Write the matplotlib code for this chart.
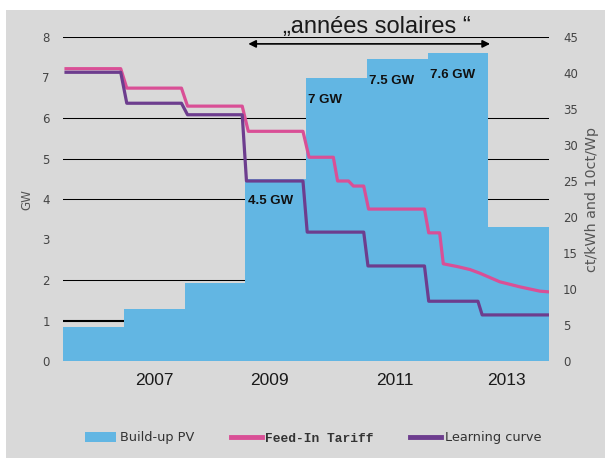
import matplotlib.pyplot as plt
from matplotlib.patches import Rectangle, Patch
from matplotlib.lines import Line2D

# yearly PV build-up (GW)
years = [2006, 2007, 2008, 2009, 2010, 2011, 2012, 2013]
build_up_gw = [0.83, 1.28, 1.93, 4.5, 7.0, 7.46, 7.6, 3.3]
bar_labels = ['', '', '', '4.5 GW', '7 GW', '7.5 GW', '7.6 GW', '']

# feed-in tariff (ct/kWh)
tariff_x = [2005.55, 2006.45, 2006.55, 2007.45, 2007.55, 2008.45, 2008.55, 2009.45,
            2009.55, 2009.95, 2010.02, 2010.2, 2010.28, 2010.45, 2010.53, 2011.45,
            2011.52, 2011.7, 2011.76, 2012.0, 2012.2, 2012.36, 2012.69, 2013.02,
            2013.35, 2013.5]
tariff_ct = [40.6, 40.6, 37.9, 37.9, 35.4, 35.4, 31.9, 31.9,
             28.3, 28.3, 25.0, 25.0, 24.3, 24.3, 21.1, 21.1,
             17.8, 17.8, 13.5, 13.1, 12.7, 12.2, 11.0, 10.3,
             9.7, 9.6]

# learning curve (10ct/Wp)
learning_x = [2005.55, 2006.45, 2006.55, 2007.45, 2007.55, 2008.45, 2008.52, 2009.45,
              2009.52, 2010.45, 2010.52, 2011.45, 2011.52, 2012.33, 2012.4, 2013.5]
learning_ct = [40.1, 40.1, 35.8, 35.8, 34.2, 34.2, 25.0, 25.0,
               17.9, 17.9, 13.2, 13.2, 8.3, 8.3, 6.4, 6.4]

gw_ticks = list(range(0, 9))
ct_ticks = list(range(0, 50, 5))
year_pos = [2007, 2008.9, 2010.96, 2012.8]
year_labels = ['2007', '2009', '2011', '2013']
grid_levels = [1, 2, 4, 5, 6, 8]

blue = '#62b6e3'
pink = '#d94f96'
purple = '#6d3d8e'
bg = '#d9d9d9'

fig = plt.figure(figsize=(6.05, 4.58), dpi=100)
fig.patch.set_facecolor('white')
fig.add_artist(Rectangle((6 / 605, 0), 1, 1 - 10 / 458, transform=fig.transFigure,
                         facecolor=bg, edgecolor='none', zorder=-10))

ax = fig.add_axes([63 / 605, 1 - 361 / 458, 486 / 605, 324 / 458])
ax.set_facecolor(bg)

for g in grid_levels:
    ax.axhline(g, color='black', lw=1.5 if g == 1 else 0.75, zorder=1)

ax.bar(years, build_up_gw, width=1.0, color=blue, zorder=2)
for x, h, lab in zip(years, build_up_gw, bar_labels):
    if lab:
        ax.text(x - 0.46, h - 0.55, lab, fontsize=9.5, fontweight='bold',
                family='Liberation Sans', color='#111111', va='center', zorder=5)

ax.set_xlim(2005.5, 2013.5)
ax.set_ylim(0, 8)
ax.set_yticks(gw_ticks)
ax.set_xticks(year_pos)
ax.set_xticklabels(year_labels)
for s in ax.spines.values():
    s.set_visible(False)
ax.tick_params(axis='y', length=0, pad=9.5, labelsize=8.5, labelcolor='#444444')
ax.tick_params(axis='x', length=0, pad=8.5)
for t in ax.get_xticklabels():
    t.set_fontfamily('Liberation Sans')
    t.set_fontsize(12.5)
    t.set_color('#1a1a1a')

ax2 = ax.twinx()
ax2.plot(tariff_x, tariff_ct, color=pink, lw=2.3, solid_joinstyle='round')
ax2.plot(learning_x, learning_ct, color=purple, lw=2.3, solid_joinstyle='round')
ax2.set_ylim(0, 45)
ax2.set_yticks(ct_ticks)
for s in ax2.spines.values():
    s.set_visible(False)
ax2.tick_params(axis='y', length=0, pad=10, labelsize=8.5, labelcolor='#444444')

# "années solaires" span
ax.annotate('', xy=(2008.55, 7.83), xytext=(2012.53, 7.83),
            arrowprops=dict(arrowstyle='<|-|>', color='black', lw=1.2,
                            mutation_scale=11, shrinkA=0, shrinkB=0),
            zorder=6)
fig.text(377 / 605, 1 - 33 / 458, '\u201eannées solaires \u201c', fontsize=17,
         family='Liberation Sans', color='#1a1a1a', ha='center', va='baseline')

fig.text(27 / 605, 1 - 200 / 458, 'GW', rotation=90, fontsize=8.6,
         color='#555555', ha='center', va='center')
fig.text(592 / 605, 1 - 200 / 458, 'ct/kWh and 10ct/Wp', rotation=90, fontsize=10.3,
         color='#555555', ha='center', va='center')

handles = [Patch(facecolor=blue, edgecolor='none'),
           Line2D([], [], color=pink, lw=3.5),
           Line2D([], [], color=purple, lw=3.5)]
leg = fig.legend(handles, ['Build-up PV', 'Feed-In Tariff', 'Learning curve'],
                 loc='center', bbox_to_anchor=(0.518, 1 - 438 / 458), ncol=3,
                 frameon=False, fontsize=9.3, handlelength=2.4, handletextpad=0.3,
                 columnspacing=2.8)
for t in leg.get_texts():
    t.set_color('#333333')
leg.get_texts()[1].set_fontfamily('Liberation Mono')
leg.get_texts()[1].set_fontweight('bold')
leg.get_texts()[1].set_fontsize(9.3)

fig.savefig('out.png', dpi=100)
